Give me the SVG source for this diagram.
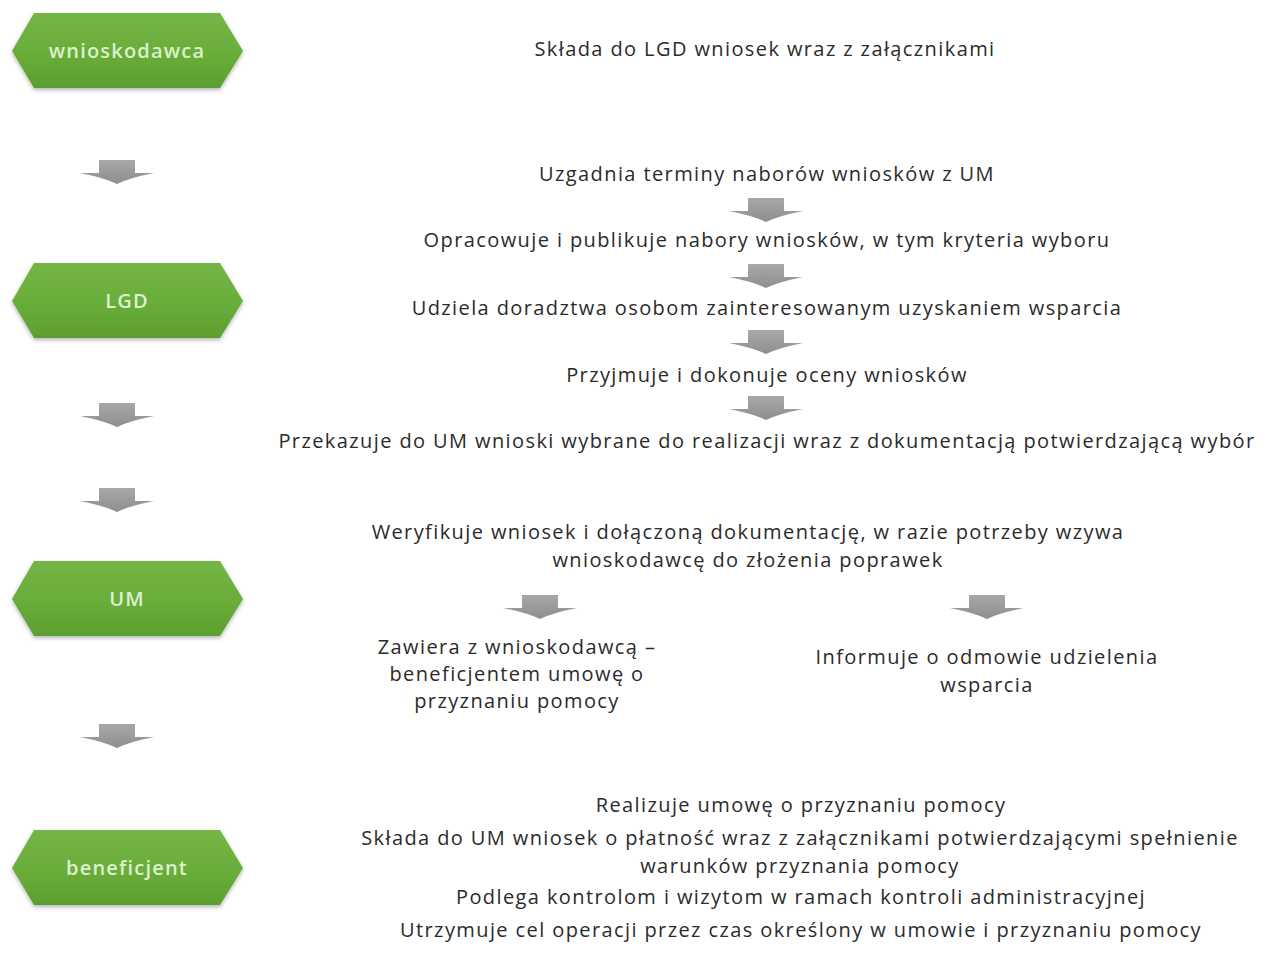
<svg xmlns="http://www.w3.org/2000/svg" width="1283" height="956" viewBox="0 0 1283 956">
<defs>
<linearGradient id="gGreen" x1="0" y1="0" x2="0" y2="1">
<stop offset="0" stop-color="#74b546"/>
<stop offset="0.5" stop-color="#6aae3b"/>
<stop offset="1" stop-color="#5c9f30"/>
</linearGradient>
<linearGradient id="gGray" x1="0" y1="0" x2="0" y2="1">
<stop offset="0" stop-color="#a8a8a8"/>
<stop offset="1" stop-color="#8e8e8e"/>
</linearGradient>
<filter id="sh" x="-10%" y="-20%" width="120%" height="150%">
<feGaussianBlur in="SourceAlpha" stdDeviation="2"/>
<feOffset dy="2" result="b"/>
<feComponentTransfer><feFuncA type="linear" slope="0.3"/></feComponentTransfer>
<feMerge><feMergeNode/><feMergeNode in="SourceGraphic"/></feMerge>
</filter>
<path id="arrow" d="M-18,-12 H18 V1 H37 Q12,6 0,12 Q-12,6 -37,1 H-18 Z"/>
<path id="hex" d="M-93,-38 H93 L116,0 L93,37 H-93 L-115,0 Z"/>
</defs>
<style>
.hex{fill:url(#gGreen);filter:url(#sh);}
.nl{font-family:"Open Sans","Liberation Sans",sans-serif;font-size:20px;font-weight:600;letter-spacing:1.2px;fill:#dcf1cb;text-anchor:middle;}
.t{font-family:"Open Sans","Liberation Sans",sans-serif;font-size:20px;letter-spacing:1.4px;fill:#2b2b2b;text-anchor:middle;}
.ar{fill:url(#gGray);}
</style>
<rect width="1283" height="956" fill="#ffffff"/>

<g id="node-wnioskodawca">
<use href="#hex" class="hex" x="127" y="51"/>
<text class="nl" x="127" y="58">wnioskodawca</text>
</g>
<g id="node-LGD">
<use href="#hex" class="hex" x="127" y="301"/>
<text class="nl" x="127" y="308">LGD</text>
</g>
<g id="node-UM">
<use href="#hex" class="hex" x="127" y="599"/>
<text class="nl" x="127" y="606">UM</text>
</g>
<g id="node-beneficjent">
<use href="#hex" class="hex" x="127" y="868"/>
<text class="nl" x="127" y="875">beneficjent</text>
</g>

<g id="connectors">
<use href="#arrow" class="ar" x="117" y="172"/>
<use href="#arrow" class="ar" x="117" y="415"/>
<use href="#arrow" class="ar" x="117" y="500"/>
<use href="#arrow" class="ar" x="117" y="736"/>
<use href="#arrow" class="ar" x="766" y="210"/>
<use href="#arrow" class="ar" x="766" y="276"/>
<use href="#arrow" class="ar" x="766" y="342"/>
<use href="#arrow" class="ar" x="766" y="408"/>
<use href="#arrow" class="ar" x="540" y="607"/>
<use href="#arrow" class="ar" x="987" y="607"/>
</g>

<g id="texts">
<text class="t" x="765" y="56">Składa do LGD wniosek wraz z załącznikami</text>
<text class="t" x="767" y="181">Uzgadnia terminy naborów wniosków z UM</text>
<text class="t" x="767" y="247">Opracowuje i publikuje nabory wniosków, w tym kryteria wyboru</text>
<text class="t" x="767" y="315">Udziela doradztwa osobom zainteresowanym uzyskaniem wsparcia</text>
<text class="t" x="767" y="382">Przyjmuje i dokonuje oceny wniosków</text>
<text class="t" x="767" y="448">Przekazuje do UM wnioski wybrane do realizacji wraz z dokumentacją potwierdzającą wybór</text>
<text class="t" x="748" y="539">Weryfikuje wniosek i dołączoną dokumentację, w razie potrzeby wzywa</text>
<text class="t" x="748" y="567">wnioskodawcę do złożenia poprawek</text>
<text class="t" x="517" y="654">Zawiera z wnioskodawcą –</text>
<text class="t" x="517" y="681">beneficjentem umowę o</text>
<text class="t" x="517" y="708">przyznaniu pomocy</text>
<text class="t" x="987" y="664">Informuje o odmowie udzielenia</text>
<text class="t" x="987" y="692">wsparcia</text>
<text class="t" x="801" y="812">Realizuje umowę o przyznaniu pomocy</text>
<text class="t" x="800" y="845">Składa do UM wniosek o płatność wraz z załącznikami potwierdzającymi spełnienie</text>
<text class="t" x="800" y="873">warunków przyznania pomocy</text>
<text class="t" x="801" y="904">Podlega kontrolom i wizytom w ramach kontroli administracyjnej</text>
<text class="t" x="801" y="937">Utrzymuje cel operacji przez czas określony w umowie i przyznaniu pomocy</text>
</g>
</svg>
